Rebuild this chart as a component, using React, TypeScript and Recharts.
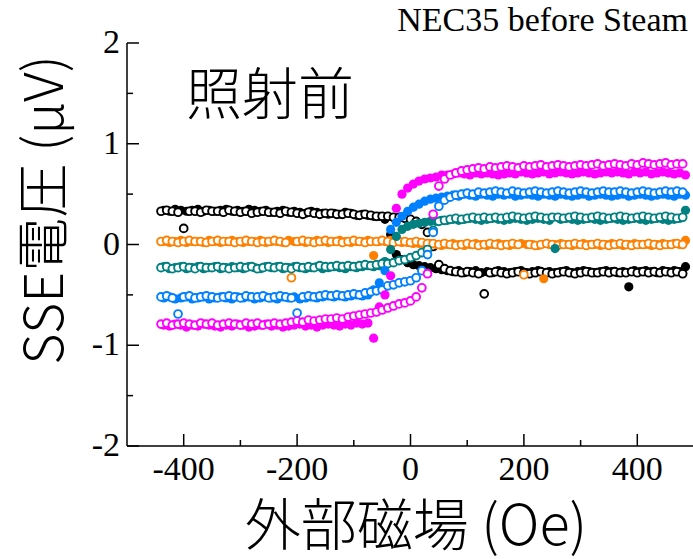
import { ScatterChart, Scatter, XAxis, YAxis } from "recharts";

// external field (Oe) for the up sweep (open markers)
const FIELD_UP = [
  -440, -430, -420, -410, -400, -390, -380, -370, -360, -350,
  -340, -330, -320, -310, -300, -290, -280, -270, -260, -250,
  -240, -230, -220, -210, -200, -190, -180, -170, -160, -150,
  -140, -130, -120, -110, -100, -90, -80, -70, -60, -50,
  -40, -30, -20, -10, 0, 10, 20, 30, 40, 50,
  60, 70, 80, 90, 100, 110, 120, 130, 140, 150,
  160, 170, 180, 190, 200, 210, 220, 230, 240, 250,
  260, 270, 280, 290, 300, 310, 320, 330, 340, 350,
  360, 370, 380, 390, 400, 410, 420, 430, 440, 450,
  460, 470, 480,
];
// external field (Oe) for the down sweep (filled markers)
const FIELD_DOWN = [
  -435, -425, -415, -405, -395, -385, -375, -365, -355, -345,
  -335, -325, -315, -305, -295, -285, -275, -265, -255, -245,
  -235, -225, -215, -205, -195, -185, -175, -165, -155, -145,
  -135, -125, -115, -105, -95, -85, -75, -65, -55, -45,
  -35, -25, -15, -5, 5, 15, 25, 35, 45, 55,
  65, 75, 85, 95, 105, 115, 125, 135, 145, 155,
  165, 175, 185, 195, 205, 215, 225, 235, 245, 255,
  265, 275, 285, 295, 305, 315, 325, 335, 345, 355,
  365, 375, 385, 395, 405, 415, 425, 435, 445, 455,
  465, 475, 485,
];

// SSE voltage (uV); "down" = filled markers, "up" = open markers
const BLACK_DOWN = [
  0.34, 0.33, 0.35, 0.34, 0.33, 0.34, 0.35, 0.33, 0.34, 0.33,
  0.34, 0.35, 0.33, 0.34, 0.33, 0.35, 0.34, 0.33, 0.34, 0.32,
  0.33, 0.34, 0.32, 0.33, 0.32, 0.31, 0.33, 0.32, 0.31, 0.3,
  0.31, 0.3, 0.32, 0.31, 0.29, 0.3, 0.29, 0.28, 0.28, 0.25,
  0.1, -0.1, -0.15, -0.18, -0.2, -0.21, -0.22, -0.23, -0.24, -0.25,
  -0.26, -0.27, -0.26, -0.28, -0.27, -0.26, -0.28, -0.27, -0.28, -0.26,
  -0.27, -0.28, -0.27, -0.26, -0.28, -0.27, -0.26, -0.28, -0.27, -0.28,
  -0.27, -0.26, -0.28, -0.27, -0.26, -0.27, -0.28, -0.27, -0.26, -0.27,
  -0.28, -0.27, -0.42, -0.26, -0.27, -0.26, -0.27, -0.28, -0.26, -0.27,
  -0.26, -0.27, -0.22,
];
const BLACK_UP = [
  0.33, 0.34, 0.33, 0.32, 0.16, 0.33, 0.33, 0.32, 0.34, 0.33,
  0.33, 0.32, 0.34, 0.33, 0.32, 0.33, 0.31, 0.32, 0.33, 0.32,
  0.32, 0.31, 0.33, 0.32, 0.31, 0.3, 0.32, 0.31, 0.3, 0.31,
  0.31, 0.3, 0.3, 0.31, 0.3, 0.29, 0.3, 0.29, 0.28, 0.28,
  0.28, 0.27, 0.27, 0.26, 0.25, 0.23, 0.2, 0.12, -0.02, -0.2,
  -0.24, -0.26, -0.27, -0.28, -0.27, -0.28, -0.29, -0.49, -0.28, -0.27,
  -0.28, -0.29, -0.28, -0.27, -0.28, -0.29, -0.28, -0.27, -0.28, -0.29,
  -0.28, -0.27, -0.28, -0.29, -0.28, -0.27, -0.28, -0.28, -0.27, -0.28,
  -0.27, -0.28, -0.28, -0.27, -0.28, -0.27, -0.28, -0.27, -0.28, -0.27,
  -0.28, -0.27, -0.29,
];
const ORANGE_DOWN = [
  0.03, 0.02, 0.03, 0.04, 0.02, 0.03, 0.03, 0.02, 0.04, 0.03,
  0.02, 0.03, 0.04, 0.03, 0.02, 0.03, 0.03, 0.04, 0.02, 0.03,
  0.03, 0.02, 0.04, 0.03, 0.03, 0.02, 0.03, 0.04, 0.03, 0.02,
  0.03, 0.04, 0.03, 0.02, 0.03, 0.03, 0.04, -0.11, 0.03, 0.03,
  0.04, 0.03, 0.02, 0.02, 0.01, 0.01, 0.0, 0.01, 0.0, -0.01,
  0.0, 0.01, 0.0, -0.01, 0.0, 0.01, 0.0, -0.01, 0.0, 0.01,
  0.0, -0.01, 0.0, 0.01, 0.0, 0.0, -0.01, -0.34, 0.0, 0.0,
  0.01, 0.0, -0.01, 0.0, 0.01, 0.0, 0.0, -0.01, 0.0, 0.01,
  0.0, -0.01, 0.0, 0.01, 0.0, 0.0, -0.01, 0.0, 0.01, 0.0,
  0.01, 0.0, 0.04,
];
const ORANGE_UP = [
  0.03, 0.04, 0.03, 0.02, 0.03, 0.04, 0.03, 0.03, 0.02, 0.03,
  0.04, 0.03, 0.03, 0.02, 0.03, 0.04, 0.03, 0.02, 0.03, 0.03,
  0.04, 0.03, 0.02, -0.33, 0.03, 0.04, 0.03, 0.02, 0.03, 0.04,
  0.03, 0.03, 0.02, 0.03, 0.04, 0.03, 0.02, 0.03, 0.03, 0.04,
  0.03, 0.02, 0.03, 0.03, 0.02, 0.03, 0.02, 0.01, 0.01, 0.0,
  0.01, 0.0, -0.01, 0.0, 0.01, 0.0, -0.01, 0.0, 0.01, 0.0,
  -0.01, 0.0, 0.01, 0.0, -0.3, 0.0, -0.01, 0.0, 0.01, 0.0,
  -0.01, 0.0, 0.0, 0.01, 0.0, -0.01, 0.0, 0.01, 0.0, -0.01,
  0.0, 0.01, 0.0, -0.01, 0.0, 0.0, 0.01, 0.0, -0.01, 0.0,
  0.0, 0.01, 0.0,
];
const TEAL_DOWN = [
  -0.22, -0.24, -0.23, -0.22, -0.24, -0.23, -0.22, -0.24, -0.23, -0.22,
  -0.24, -0.23, -0.22, -0.23, -0.24, -0.22, -0.23, -0.24, -0.22, -0.23,
  -0.22, -0.24, -0.23, -0.22, -0.23, -0.24, -0.23, -0.22, -0.24, -0.23,
  -0.22, -0.23, -0.24, -0.22, -0.23, -0.22, -0.21, -0.22, -0.21, -0.17,
  -0.05, 0.08, 0.15, 0.18, 0.2, 0.21, 0.22, 0.23, 0.23, 0.24,
  0.24, 0.25, 0.24, 0.25, 0.26, 0.25, 0.24, 0.25, 0.26, 0.25,
  0.24, 0.25, 0.26, 0.25, 0.24, 0.25, 0.26, 0.25, 0.24, -0.04,
  0.25, 0.26, 0.25, 0.24, 0.25, 0.26, 0.25, 0.24, 0.25, 0.26,
  0.25, 0.24, 0.25, 0.26, 0.25, 0.24, 0.25, 0.26, 0.25, 0.24,
  0.25, 0.26, 0.34,
];
const TEAL_UP = [
  -0.23, -0.22, -0.24, -0.23, -0.22, -0.23, -0.24, -0.22, -0.23, -0.23,
  -0.22, -0.23, -0.24, -0.23, -0.22, -0.23, -0.22, -0.24, -0.23, -0.22,
  -0.23, -0.22, -0.23, -0.24, -0.22, -0.23, -0.22, -0.23, -0.21, -0.22,
  -0.22, -0.21, -0.22, -0.21, -0.22, -0.21, -0.2, -0.21, -0.2, -0.19,
  -0.19, -0.18, -0.16, -0.15, -0.13, -0.11, -0.08, -0.05, 0.14, 0.23,
  0.24, 0.25, 0.26, 0.25, 0.26, 0.27, 0.26, 0.27, 0.26, 0.27,
  0.26, 0.27, 0.28, 0.27, 0.26, 0.27, 0.28, 0.27, 0.26, 0.27,
  0.27, 0.26, 0.27, 0.28, 0.27, 0.26, 0.27, 0.28, 0.27, 0.26,
  0.27, 0.28, 0.27, 0.26, 0.27, 0.28, 0.27, 0.26, 0.27, 0.28,
  0.27, 0.26, 0.27,
];
const BLUE_DOWN = [
  -0.53, -0.52, -0.54, -0.53, -0.52, -0.54, -0.53, -0.52, -0.54, -0.53,
  -0.52, -0.53, -0.54, -0.52, -0.53, -0.52, -0.54, -0.53, -0.52, -0.53,
  -0.54, -0.52, -0.53, -0.52, -0.54, -0.53, -0.52, -0.53, -0.52, -0.51,
  -0.52, -0.51, -0.52, -0.51, -0.5, -0.51, -0.5, -0.45, -0.38, -0.26,
  0.15, 0.22, 0.28, 0.33, 0.37, 0.4, 0.43, 0.45, 0.46, 0.47,
  0.48, 0.49, 0.48, 0.5, 0.49, 0.48, 0.5, 0.49, 0.48, 0.5,
  0.49, 0.5, 0.48, 0.49, 0.5, 0.49, 0.48, 0.5, 0.49, 0.48,
  0.5, 0.49, 0.48, 0.49, 0.5, 0.48, 0.49, 0.5, 0.49, 0.48,
  0.49, 0.5, 0.48, 0.49, 0.5, 0.49, 0.48, 0.49, 0.5, 0.49,
  0.48, 0.5, 0.49,
];
const BLUE_UP = [
  -0.52, -0.51, -0.53, -0.69, -0.52, -0.51, -0.53, -0.52, -0.51, -0.52,
  -0.53, -0.52, -0.51, -0.52, -0.53, -0.51, -0.52, -0.52, -0.51, -0.53,
  -0.52, -0.51, -0.52, -0.53, -0.68, -0.52, -0.51, -0.52, -0.51, -0.5,
  -0.51, -0.5, -0.51, -0.5, -0.49, -0.5, -0.48, -0.47, -0.46, -0.45,
  -0.41, -0.4, -0.38, -0.37, -0.36, -0.33, -0.26, -0.1, 0.12, 0.38,
  0.44, 0.47, 0.49, 0.5, 0.51, 0.5, 0.52, 0.51, 0.52, 0.53,
  0.52, 0.51, 0.53, 0.52, 0.51, 0.52, 0.53, 0.52, 0.51, 0.52,
  0.53, 0.52, 0.51, 0.52, 0.53, 0.52, 0.51, 0.52, 0.53, 0.52,
  0.52, 0.53, 0.52, 0.51, 0.52, 0.53, 0.52, 0.51, 0.52, 0.53,
  0.52, 0.53, 0.52,
];
const MAGENTA_DOWN = [
  -0.8, -0.81, -0.79, -0.8, -0.82, -0.8, -0.81, -0.79, -0.8, -0.81,
  -0.82, -0.8, -0.81, -0.79, -0.8, -0.82, -0.81, -0.8, -0.79, -0.81,
  -0.8, -0.82, -0.81, -0.8, -0.79, -0.81, -0.8, -0.82, -0.8, -0.79,
  -0.8, -0.81, -0.79, -0.8, -0.78, -0.79, -0.78, -0.93, -0.62, -0.5,
  -0.31, 0.36, 0.5, 0.56, 0.6, 0.63, 0.65, 0.66, 0.67, 0.69,
  0.69, 0.7, 0.71, 0.7, 0.69, 0.71, 0.7, 0.71, 0.7, 0.69,
  0.7, 0.71, 0.7, 0.72, 0.71, 0.7, 0.71, 0.72, 0.7, 0.71,
  0.72, 0.71, 0.7, 0.71, 0.72, 0.71, 0.7, 0.71, 0.72, 0.71,
  0.72, 0.71, 0.7, 0.72, 0.71, 0.72, 0.7, 0.71, 0.72, 0.71,
  0.7, 0.71, 0.69,
];
const MAGENTA_UP = [
  -0.79, -0.78, -0.8, -0.79, -0.78, -0.79, -0.8, -0.78, -0.79, -0.78,
  -0.8, -0.79, -0.78, -0.79, -0.8, -0.78, -0.79, -0.78, -0.8, -0.79,
  -0.78, -0.79, -0.78, -0.77, -0.76, -0.77, -0.75, -0.76, -0.75, -0.74,
  -0.74, -0.73, -0.74, -0.72, -0.71, -0.7, -0.69, -0.68, -0.67, -0.65,
  -0.63, -0.61, -0.59, -0.58, -0.56, -0.52, -0.43, -0.29, 0.3, 0.58,
  0.65, 0.69, 0.71, 0.73, 0.74, 0.75, 0.76, 0.75, 0.77, 0.76,
  0.77, 0.78, 0.77, 0.76, 0.78, 0.77, 0.78, 0.79, 0.77, 0.78,
  0.79, 0.78, 0.77, 0.78, 0.79, 0.78, 0.79, 0.8, 0.78, 0.79,
  0.8, 0.79, 0.78, 0.8, 0.79, 0.81, 0.8, 0.79, 0.8, 0.81,
  0.79, 0.8, 0.8,
];

const X_TICKS = [-400, -300, -200, -100, 0, 100, 200, 300, 400];
const Y_TICKS = [-2, -1.5, -1, -0.5, 0, 0.5, 1, 1.5, 2];

const SERIES = [
  { key: "black-down", color: "#000000", open: false, field: FIELD_DOWN, values: BLACK_DOWN },
  { key: "black-up", color: "#000000", open: true, field: FIELD_UP, values: BLACK_UP },
  { key: "orange-down", color: "#ff8000", open: false, field: FIELD_DOWN, values: ORANGE_DOWN },
  { key: "orange-up", color: "#ff8000", open: true, field: FIELD_UP, values: ORANGE_UP },
  { key: "teal-down", color: "#008080", open: false, field: FIELD_DOWN, values: TEAL_DOWN },
  { key: "teal-up", color: "#008080", open: true, field: FIELD_UP, values: TEAL_UP },
  { key: "blue-down", color: "#0080ff", open: false, field: FIELD_DOWN, values: BLUE_DOWN },
  { key: "blue-up", color: "#0080ff", open: true, field: FIELD_UP, values: BLUE_UP },
  { key: "magenta-down", color: "#ff00ff", open: false, field: FIELD_DOWN, values: MAGENTA_DOWN },
  { key: "magenta-up", color: "#ff00ff", open: true, field: FIELD_UP, values: MAGENTA_UP },
];

const SERIF = "'Liberation Serif', 'Times New Roman', serif";
const CJK = "'Noto Sans CJK JP', 'Noto Sans', sans-serif";
const LINE = { stroke: "#000", strokeWidth: 1.5 };
const tickText = { fontFamily: SERIF, fontSize: 34 };

const toPoints = (field: number[], values: number[]) =>
  field.map((h, i) => ({ h, v: values[i] }));

const BottomTick = ({ x, y, payload }: any) => {
  const major = payload.value % 200 === 0;
  return (
    <g>
      <line x1={x} x2={x} y1={y} y2={y - (major ? 12 : 6)} {...LINE} />
      {major && (
        <text x={x} y={y + 34} textAnchor="middle" fill="#000" style={tickText}>
          {payload.value}
        </text>
      )}
    </g>
  );
};

const TopTick = ({ x, y, payload }: any) => {
  const major = payload.value % 200 === 0;
  return <line x1={x} x2={x} y1={y} y2={y + (major ? 12 : 6)} {...LINE} />;
};

const LeftTick = ({ x, y, payload }: any) => {
  const major = Number.isInteger(payload.value);
  return (
    <g>
      <line x1={x} x2={x + (major ? 12 : 6)} y1={y} y2={y} {...LINE} />
      {major && (
        <text x={x - 7} y={y + 10} textAnchor="end" fill="#000" style={tickText}>
          {payload.value}
        </text>
      )}
    </g>
  );
};

const RightTick = ({ x, y, payload }: any) => {
  const major = Number.isInteger(payload.value);
  return <line x1={x} x2={x - (major ? 12 : 6)} y1={y} y2={y} {...LINE} />;
};

const FilledDot = (color: string) => (p: any) =>
  <circle cx={p.cx} cy={p.cy} r={4.6} fill={color} />;

const OpenDot = (color: string) => (p: any) =>
  <circle cx={p.cx} cy={p.cy} r={3.9} fill="#fff" stroke={color} strokeWidth={1.9} />;

export default function App() {
  return (
    <div
      style={{
        position: "absolute",
        left: 0,
        top: 0,
        width: 693,
        height: 559,
        overflow: "hidden",
        background: "#fff",
      }}
    >
      <ScatterChart width={700} height={559} margin={{ top: 43, right: 6, bottom: 0, left: 0 }}>
        <XAxis
          xAxisId="bottom"
          type="number"
          dataKey="h"
          orientation="bottom"
          domain={[-500, 500]}
          ticks={X_TICKS}
          interval={0}
          height={113}
          allowDataOverflow
          axisLine={LINE}
          tickLine={false}
          tickSize={0}
          tickMargin={0}
          tick={<BottomTick />}
        />
        <XAxis
          xAxisId="top"
          type="number"
          orientation="top"
          domain={[-500, 500]}
          ticks={X_TICKS}
          interval={0}
          height={0}
          allowDataOverflow
          axisLine={LINE}
          tickLine={false}
          tickSize={0}
          tickMargin={0}
          tick={<TopTick />}
        />
        <YAxis
          yAxisId="left"
          type="number"
          dataKey="v"
          domain={[-2, 2]}
          ticks={Y_TICKS}
          interval={0}
          width={127}
          allowDataOverflow
          axisLine={LINE}
          tickLine={false}
          tickSize={0}
          tickMargin={0}
          tick={<LeftTick />}
        />
        <YAxis
          yAxisId="right"
          type="number"
          orientation="right"
          domain={[-2, 2]}
          ticks={Y_TICKS}
          interval={0}
          width={0}
          allowDataOverflow
          axisLine={LINE}
          tickLine={false}
          tickSize={0}
          tickMargin={0}
          tick={<RightTick />}
        />
        {SERIES.map((s) => (
          <Scatter
            key={s.key}
            xAxisId="bottom"
            yAxisId="left"
            data={toPoints(s.field, s.values)}
            isAnimationActive={false}
            shape={s.open ? OpenDot(s.color) : FilledDot(s.color)}
          />
        ))}
        <text x={688} y={31} textAnchor="end" fill="#000" style={{ fontFamily: SERIF, fontSize: 34 }}>
          NEC35 before Steam
        </text>
        <text x={186} y={114} fill="#000" style={{ fontFamily: CJK, fontWeight: 300, fontSize: 56 }}>
          照射前
        </text>
        <text
          transform="translate(63, 210) rotate(-90)"
          textAnchor="middle"
          fill="#000"
          style={{ fontFamily: CJK, fontWeight: 300, fontSize: 54 }}
        >
          SSE電圧 (μV)
        </text>
        <text x={416} y={545} textAnchor="middle" fill="#000" style={{ fontFamily: CJK, fontWeight: 300, fontSize: 56 }}>
          外部磁場 (Oe)
        </text>
      </ScatterChart>
    </div>
  );
}
